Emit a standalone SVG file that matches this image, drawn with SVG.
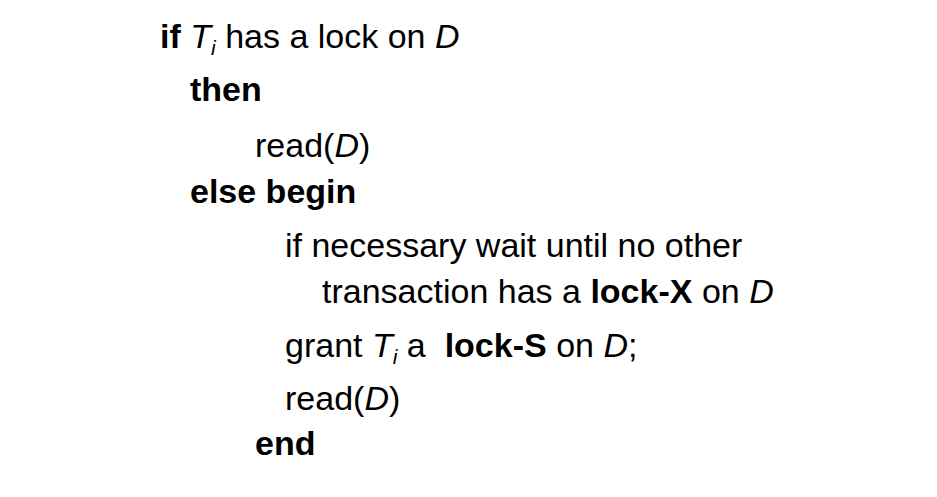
<svg xmlns="http://www.w3.org/2000/svg" width="937" height="497" viewBox="0 0 937 497">
<style>text{font-family:"Liberation Sans",Arial,sans-serif;font-size:34px;fill:#000}.b{font-weight:bold}.i{font-style:italic}.s{font-size:21px;font-style:italic}</style>
<rect width="937" height="497" fill="#fff"/>
<text x="160" y="48"><tspan class="b">if</tspan> <tspan class="i">T</tspan><tspan class="s" dy="7">i</tspan><tspan dy="-7"> has a lock on </tspan><tspan class="i">D</tspan></text>
<text x="190" y="101" class="b">then</text>
<text x="255" y="157">read(<tspan class="i">D</tspan>)</text>
<text x="190" y="203" class="b">else begin</text>
<text x="285" y="257">if necessary wait until no other</text>
<text x="322" y="303">transaction has a <tspan class="b">lock-X</tspan> on <tspan class="i">D</tspan></text>
<text x="285" y="357" xml:space="preserve">grant <tspan class="i">T</tspan><tspan class="s" dy="7">i</tspan><tspan dy="-7"> a  </tspan><tspan class="b">lock-S</tspan> on <tspan class="i">D</tspan>;</text>
<text x="285" y="410">read(<tspan class="i">D</tspan>)</text>
<text x="255" y="455" class="b">end</text>
</svg>
